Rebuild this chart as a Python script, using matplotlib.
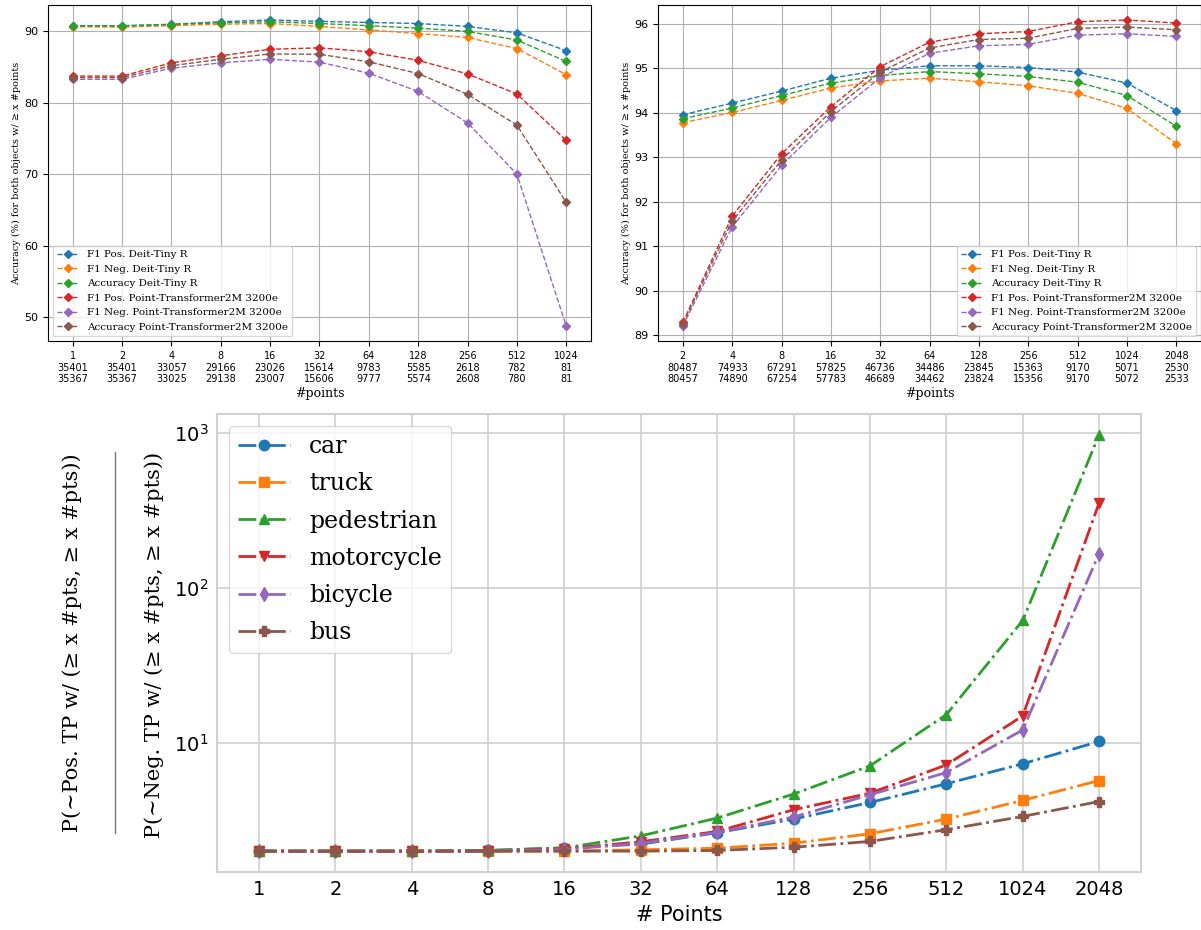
import matplotlib.pyplot as plt
from matplotlib.lines import Line2D

# ---- top left panel ----
pts_l = [1, 2, 4, 8, 16, 32, 64, 128, 256, 512, 1024]
npos_l = [35401, 35401, 33057, 29166, 23026, 15614, 9783, 5585, 2618, 782, 81]
nneg_l = [35367, 35367, 33025, 29138, 23007, 15606, 9777, 5574, 2608, 780, 81]
f1pos_deit_l = [90.8, 90.8, 91.0, 91.35, 91.6, 91.4, 91.25, 91.1, 90.7, 89.8, 87.3]
f1neg_deit_l = [90.65, 90.6, 90.8, 91.0, 91.1, 90.7, 90.2, 89.7, 89.15, 87.6, 83.95]
acc_deit_l = [90.75, 90.75, 90.95, 91.2, 91.35, 91.1, 90.8, 90.45, 90.0, 88.8, 85.8]
f1pos_pt_l = [83.75, 83.75, 85.6, 86.6, 87.5, 87.7, 87.15, 85.95, 84.05, 81.25, 74.75]
f1neg_pt_l = [83.3, 83.3, 84.85, 85.6, 86.1, 85.7, 84.15, 81.6, 77.2, 70.05, 48.8]
acc_pt_l = [83.55, 83.55, 85.2, 86.1, 86.85, 86.8, 85.75, 84.1, 81.2, 76.9, 66.1]

# ---- top right panel ----
pts_r = [2, 4, 8, 16, 32, 64, 128, 256, 512, 1024, 2048]
npos_r = [80487, 74933, 67291, 57825, 46736, 34486, 23845, 15363, 9170, 5071, 2530]
nneg_r = [80457, 74890, 67254, 57783, 46689, 34462, 23824, 15356, 9170, 5072, 2533]
f1pos_deit_r = [93.96, 94.22, 94.49, 94.78, 94.96, 95.06, 95.06, 95.02, 94.92, 94.67, 94.05]
f1neg_deit_r = [93.78, 94.01, 94.28, 94.56, 94.72, 94.78, 94.70, 94.61, 94.44, 94.10, 93.31]
acc_deit_r = [93.87, 94.11, 94.39, 94.67, 94.84, 94.93, 94.88, 94.82, 94.69, 94.39, 93.70]
f1pos_pt_r = [89.29, 91.68, 93.08, 94.14, 95.04, 95.59, 95.78, 95.83, 96.05, 96.09, 96.02]
f1neg_pt_r = [89.21, 91.44, 92.82, 93.90, 94.79, 95.34, 95.51, 95.54, 95.75, 95.78, 95.72]
acc_pt_r = [89.26, 91.57, 92.94, 94.03, 94.92, 95.46, 95.65, 95.68, 95.90, 95.93, 95.87]

names = ['F1 Pos. Deit-Tiny R', 'F1 Neg. Deit-Tiny R', 'Accuracy Deit-Tiny R',
         'F1 Pos. Point-Transformer2M 3200e', 'F1 Neg. Point-Transformer2M 3200e',
         'Accuracy Point-Transformer2M 3200e']

# ---- bottom panel ----
pts_b = [1, 2, 4, 8, 16, 32, 64, 128, 256, 512, 1024, 2048]
classes = ['car', 'truck', 'pedestrian', 'motorcycle', 'bicycle', 'bus']
car = [2.0, 2.0, 2.0, 2.02, 2.1, 2.22, 2.63, 3.22, 4.12, 5.44, 7.32, 10.2]
truck = [2.0, 2.0, 2.0, 2.0, 2.0, 2.04, 2.09, 2.25, 2.59, 3.22, 4.25, 5.71]
pedestrian = [2.0, 2.0, 2.0, 2.02, 2.1, 2.51, 3.27, 4.67, 7.1, 15.2, 61.5, 970]
motorcycle = [2.0, 2.0, 2.0, 2.0, 2.07, 2.3, 2.68, 3.7, 4.73, 7.2, 14.9, 352]
bicycle = [2.0, 2.0, 2.0, 2.0, 2.05, 2.25, 2.64, 3.32, 4.62, 6.43, 12.1, 166]
bus = [2.0, 2.0, 2.0, 2.0, 2.0, 2.0, 2.02, 2.12, 2.31, 2.75, 3.35, 4.18]
markers = ['o', 's', '^', 'v', 'd', 'P']


def top_panel(ax, pts, npos, nneg, series, loc):
    x = list(range(len(pts)))
    for name, vals in zip(names, series):
        ax.plot(x, vals, linestyle='--', marker='D', markersize=4,
                linewidth=1, label=name)
    ax.set_xticks(x)
    ax.set_xticklabels(['%d\n%d\n%d' % (p, a, b) for p, a, b in zip(pts, npos, nneg)],
                       fontsize=7)
    ax.tick_params(axis='y', labelsize=8)
    ax.grid(True)
    ax.set_xlabel('#points', family='DejaVu Serif', fontsize=9, labelpad=2)
    ax.set_ylabel('Accuracy (%) for both objects w/ ≥ x #points',
                  family='DejaVu Serif', fontsize=7, labelpad=2)
    ax.legend(loc=loc, prop={'family': 'DejaVu Serif', 'size': 7.5})


fig = plt.figure(figsize=(12.01, 9.30), dpi=100)

ax1 = fig.add_axes([0.040, 0.633, 0.452, 0.362])
top_panel(ax1, pts_l, npos_l, nneg_l,
          [f1pos_deit_l, f1neg_deit_l, acc_deit_l, f1pos_pt_l, f1neg_pt_l, acc_pt_l],
          'lower left')

ax2 = fig.add_axes([0.548, 0.633, 0.452, 0.362])
top_panel(ax2, pts_r, npos_r, nneg_r,
          [f1pos_deit_r, f1neg_deit_r, acc_deit_r, f1pos_pt_r, f1neg_pt_r, acc_pt_r],
          'lower right')

ax3 = fig.add_axes([0.1807, 0.0624, 0.7694, 0.4925])
xb = list(range(len(pts_b)))
for name, vals, m in zip(classes, [car, truck, pedestrian, motorcycle, bicycle, bus], markers):
    ax3.plot(xb, vals, linestyle='-.', marker=m, markersize=7.5, linewidth=2, label=name)
ax3.set_yscale('log')
ax3.set_xticks(xb)
ax3.set_xticklabels([str(p) for p in pts_b])
ax3.tick_params(which='both', length=0, labelsize=14, pad=6)
ax3.grid(True, which='major', color='#d0d0d0', linewidth=1.2)
for s in ax3.spines.values():
    s.set_color('#d0d0d0')
    s.set_linewidth(1.5)
ax3.set_xlabel('# Points', fontsize=15, labelpad=4)
leg = ax3.legend(loc='upper left', prop={'family': 'DejaVu Serif', 'size': 17},
                 handlelength=2.2, labelspacing=0.6, borderaxespad=0.5)
leg.get_frame().set_edgecolor('#d0d0d0')

# fraction-style y label for the bottom panel
fig.text(0.060, 0.309, 'P(~Pos. TP w/ (≥ x #pts, ≥ x #pts))', rotation=90,
         family='DejaVu Serif', fontsize=15, ha='center', va='center')
fig.text(0.128, 0.306, 'P(~Neg. TP w/ (≥ x #pts, ≥ x #pts))', rotation=90,
         family='DejaVu Serif', fontsize=15, ha='center', va='center')
fig.add_artist(Line2D([0.0955, 0.0955], [0.104, 0.514], transform=fig.transFigure,
                      color='#777777', linewidth=1))

fig.savefig('out.png', dpi=100)
